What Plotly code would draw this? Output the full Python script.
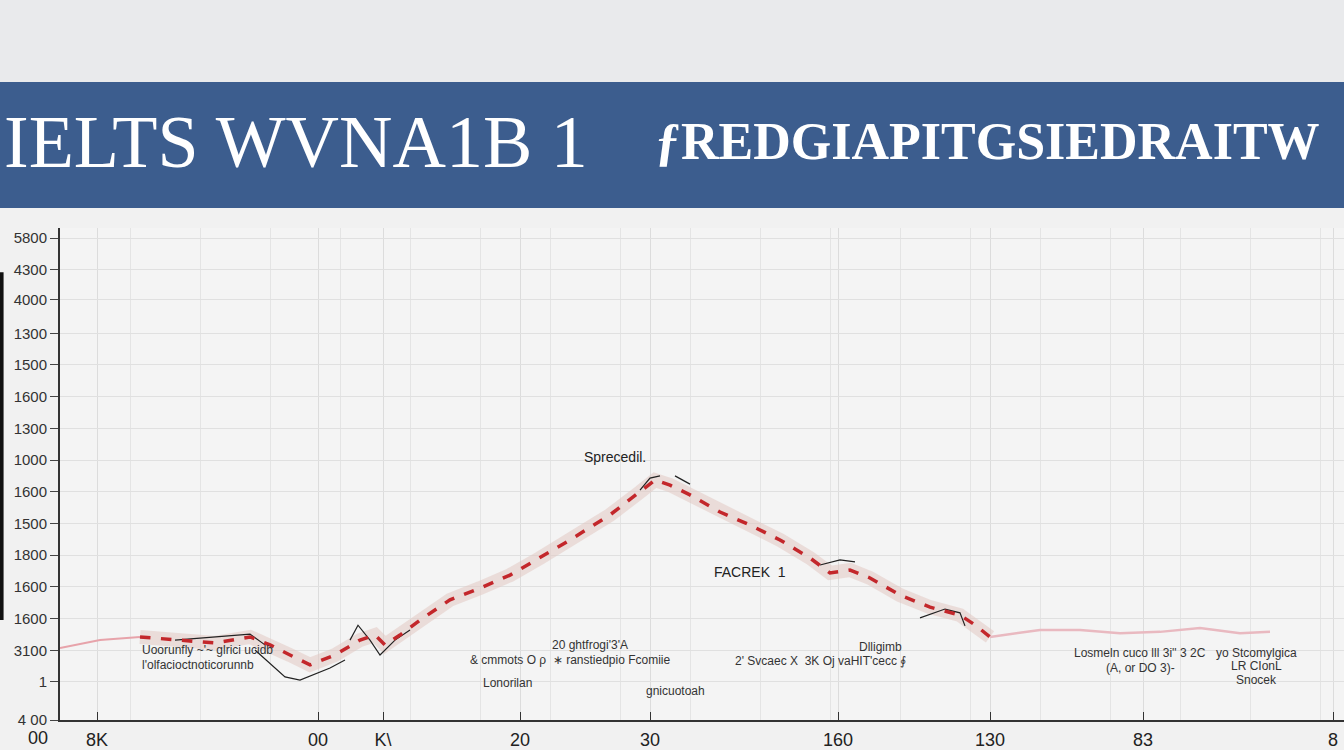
import plotly.graph_objects as go

# ---- data (x in 10-px units from the y axis, y in tick-step units) ----
lead_x = [0, 4, 8]
lead_y = [2.27, 2.52, 2.62]

main_x = [8, 12, 15.5, 19, 21, 23, 25, 27.5, 30, 31.5, 32.5, 34, 36, 39, 42, 45, 48, 51, 55, 58,
          59.5, 61, 63, 66, 69, 72, 75, 77, 79, 81, 84, 87, 90, 91.5, 93]
main_y = [2.62, 2.52, 2.43, 2.62, 2.37, 2.05, 1.74, 2.05, 2.52, 2.68, 2.37, 2.68, 3.15, 3.79, 4.16,
          4.57, 5.11, 5.68, 6.47, 7.19, 7.57, 7.41, 7.10, 6.56, 6.15, 5.68, 5.11, 4.64, 4.73, 4.48,
          3.94, 3.56, 3.31, 3.0, 2.62]

tail_x = [93, 98, 102, 106, 110, 114, 118, 121]
tail_y = [2.62, 2.84, 2.84, 2.74, 2.78, 2.90, 2.74, 2.78]

scribble_x = [11.5, 19, 20.5, None, 19.5, 22.5, 24, 27, 28.5, None, 29, 29.8, 31, 32, 33.5, 35, None,
              58, 59, 60, None, 61.5, 63, None, 76, 78, 79.5, None, 86, 88.5, 90, 90.5]
scribble_y = [2.52, 2.71, 2.37, None, 2.21, 1.36, 1.26, 1.64, 1.89, None, 2.52, 2.99, 2.52, 2.05,
              2.52, 2.84, None, 7.25, 7.63, 7.70, None, 7.70, 7.44, None, 4.89, 5.05, 4.99, None,
              3.22, 3.50, 3.38, 2.97]

y_tickvals = [0, 1.2, 2.2, 3.2, 4.2, 5.2, 6.2, 7.2, 8.2, 9.2, 10.2, 11.2, 12.2, 13.25, 14.2, 15.2]
y_ticktext = ["4 00", "1", "3100", "1600", "1600", "1800", "1500", "1600", "1000", "1300", "1600",
              "1500", "1300", "4000", "4300", "5800"]

x_tickvals = [3.7, 25.8, 32.3, 46, 59, 77.8, 93, 108.3, 127.3]
x_ticktext = ["8K", "00", "K\\", "20", "30", "160", "130", "83", "8"]

fig = go.Figure()

# halo band behind the line
fig.add_trace(go.Scatter(x=main_x, y=main_y, mode="lines",
                         line=dict(color="rgba(225,200,195,0.55)", width=14),
                         hoverinfo="skip", showlegend=False))
fig.add_trace(go.Scatter(x=lead_x, y=lead_y, mode="lines",
                         line=dict(color="#e7a3aa", width=2), showlegend=False))
fig.add_trace(go.Scatter(x=tail_x, y=tail_y, mode="lines",
                         line=dict(color="#e9b9c0", width=2.5), showlegend=False))
fig.add_trace(go.Scatter(x=scribble_x, y=scribble_y, mode="lines",
                         line=dict(color="#222222", width=1.2), connectgaps=False, showlegend=False))
fig.add_trace(go.Scatter(x=main_x, y=main_y, mode="lines",
                         line=dict(color="#c3272b", width=3.5, dash="dash"), showlegend=False))

ann_font = dict(family="Liberation Sans, Arial", size=12, color="#333333")
small_texts = [
    (8, 2.2, "Uoorunfly ~'~ glrici ucidb"),
    (8, 1.75, "l'olfacioctnoticorunnb"),
    (53, 2.36, "20 ghtfrogi'3'A"),
    (51, 1.9, "& cmmots O ρ  ∗ ranstiedpio Fcomiie"),
    (44.7, 1.16, "Lonorilan"),
    (61.5, 0.93, "gnicuotoah"),
    (82, 2.3, "Dlligimb"),
    (76, 1.87, "2' Svcaec X  3K Oj vaHIT'cecc ∮"),
    (108, 2.1, "Losmeln cuco lll 3i'' 3 2C"),
    (108, 1.65, "(A, or DO 3)-"),
    (119.6, 2.1, "yo Stcomylgica"),
    (119.6, 1.7, "LR CIonL"),
    (119.6, 1.25, "Snocek"),
]
annotations = []
for (xx, yy, tt) in small_texts:
    annotations.append(dict(x=xx, y=yy, text=tt, showarrow=False, font=ann_font,
                            xanchor="left" if xx < 40 else "center", yanchor="middle"))

annotations += [
    dict(x=55.5, y=8.3, text="Sprecedil.", showarrow=False, yanchor="middle",
         font=dict(family="Liberation Sans, Arial", size=14, color="#222")),
    dict(x=69, y=4.67, text="FACREK  1", showarrow=False, yanchor="middle",
         font=dict(family="Liberation Sans, Arial", size=14, color="#222")),
    dict(x=-0.008, y=-0.0366, xref="paper", yref="paper", text="00", showarrow=False,
         xanchor="right", yanchor="middle",
         font=dict(family="Liberation Sans, Arial", size=18, color="#222")),
    dict(x=-0.0455, y=1.175, xref="paper", yref="paper", text="IELTS WVNA1B 1", showarrow=False,
         xanchor="left", yanchor="middle",
         font=dict(family="Liberation Serif, serif", size=74, color="white")),
    dict(x=0.462, y=1.175, xref="paper", yref="paper", text="ƒREDGIAPITGSIEDRAITW", showarrow=False,
         xanchor="left", yanchor="middle",
         font=dict(family="Liberation Serif, serif", size=52, color="white", weight="bold")),
]

shapes = [
    dict(type="rect", xref="paper", yref="paper", x0=-0.05, x1=1.01, y0=1.2967, y1=1.47,
         fillcolor="#e9eaec", line=dict(width=0), layer="below"),
    dict(type="rect", xref="paper", yref="paper", x0=-0.05, x1=1.01, y0=1.0407, y1=1.2967,
         fillcolor="#3c5d8e", line=dict(width=0)),
    dict(type="line", xref="paper", yref="paper", x0=-0.0455, x1=-0.0455, y0=0.203, y1=0.91,
         line=dict(color="#111111", width=4)),
]

fig.update_layout(
    width=1344, height=750,
    margin=dict(l=60, r=0, t=228, b=30),
    paper_bgcolor="#f1f1f1", plot_bgcolor="#f4f4f4",
    showlegend=False,
    annotations=annotations, shapes=shapes,
    xaxis=dict(range=[0, 128.4], tickvals=x_tickvals, ticktext=x_ticktext, ticks="inside",
               ticklen=8, tickcolor="#333", showline=True, linecolor="#333", linewidth=2,
               showgrid=True, gridcolor="#dcdcdc", gridwidth=1, zeroline=False,
               minor=dict(dtick=7, tick0=0, showgrid=True, gridcolor="#e4e4e4"),
               ticklabelstandoff=2,
               tickfont=dict(family="Liberation Sans, Arial", size=18, color="#222")),
    yaxis=dict(range=[0, 15.52], tickvals=y_tickvals, ticktext=y_ticktext, ticks="outside",
               ticklen=8, tickcolor="#444", showline=True, linecolor="#333", linewidth=2,
               showgrid=True, gridcolor="#e0e0e0", zeroline=False,
               tickfont=dict(family="Liberation Sans, Arial", size=15, color="#333")),
)

fig.write_html("out.html", config={"displayModeBar": False},
               post_script="document.body.style.margin='0';document.body.style.overflow='hidden';")
